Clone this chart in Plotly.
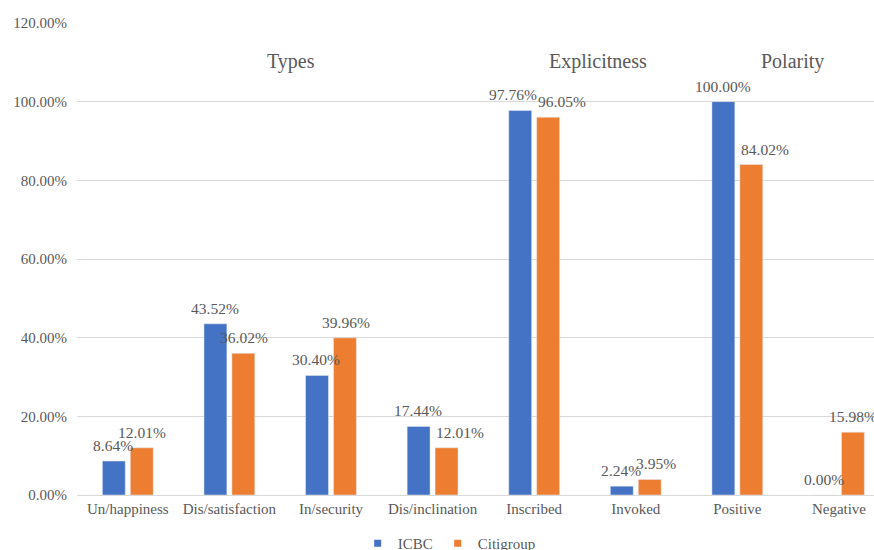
import plotly.graph_objects as go

categories = ["Un/happiness", "Dis/satisfaction", "In/security", "Dis/inclination",
              "Inscribed", "Invoked", "Positive", "Negative"]
icbc = [0.0864, 0.4352, 0.3040, 0.1744, 0.9776, 0.0224, 1.0000, 0.0000]
citigroup = [0.1201, 0.3602, 0.3996, 0.1201, 0.9605, 0.0395, 0.8402, 0.1598]
group_labels = ["Types", "Explicitness", "Polarity"]
group_pos = [1.61, 4.63, 6.54]

# horizontal nudges (px) that keep neighbouring value labels apart
icbc_label_shift = [0, 0, 0, 0, -7, 0, 0, 0]
citi_label_shift = [0, 0, 0, 13, 13, 6, 13, 0]

FONT = "Liberation Serif"
GREY = "#595959"
BLUE, ORANGE = "#4472C4", "#ED7D31"
BAR_OFFSET = 0.143  # half the distance between paired bar centres, in category units

fig = go.Figure()
for name, vals, color in [("ICBC", icbc, BLUE), ("Citigroup", citigroup, ORANGE)]:
    fig.add_trace(go.Bar(x=categories, y=vals, name=name, marker=dict(color=color),
                         showlegend=False, hoverinfo="x+y+name"))
    # compact square swatch for the legend
    fig.add_trace(go.Scatter(x=[None], y=[None], mode="markers", name=name,
                             marker=dict(symbol="square", size=7, color=color)))

for vals, shifts, sign in [(icbc, icbc_label_shift, -1), (citigroup, citi_label_shift, 1)]:
    for i, (v, s) in enumerate(zip(vals, shifts)):
        fig.add_annotation(x=i + sign * BAR_OFFSET, y=v, xref="x", yref="y",
                           text=f"{v:.2%}", showarrow=False, xanchor="center",
                           yanchor="bottom", xshift=s, yshift=5,
                           font=dict(family=FONT, size=15.5, color=GREY))

for label, pos in zip(group_labels, group_pos):
    fig.add_annotation(x=pos, y=1.101, xref="x", yref="y", text=label,
                       showarrow=False, font=dict(family=FONT, size=20, color=GREY))

fig.update_layout(
    width=874, height=550,
    margin=dict(l=77, r=0, t=23, b=55, autoexpand=False),
    paper_bgcolor="white", plot_bgcolor="white",
    barmode="group", bargap=0.45, bargroupgap=0.18,
    font=dict(family=FONT, size=15, color=GREY),
    showlegend=True,
    legend=dict(orientation="h", x=0.467, xanchor="center",
                yref="container", y=0.042, yanchor="top",
                itemwidth=30, tracegroupgap=0,
                font=dict(family=FONT, size=15, color=GREY)),
)
fig.update_xaxes(range=[-0.5, 7.345], showgrid=False, showline=True, linecolor="#D9D9D9",
                 linewidth=1, ticks="", tickfont=dict(family=FONT, size=15, color=GREY))
fig.update_yaxes(range=[0, 1.2], dtick=0.2, tickformat=".2%", showgrid=True,
                 gridcolor="#D9D9D9", gridwidth=1, zeroline=False, showline=False,
                 ticks="", ticklabelstandoff=9,
                 tickfont=dict(family=FONT, size=15, color=GREY))

fig.write_html("out.html")
